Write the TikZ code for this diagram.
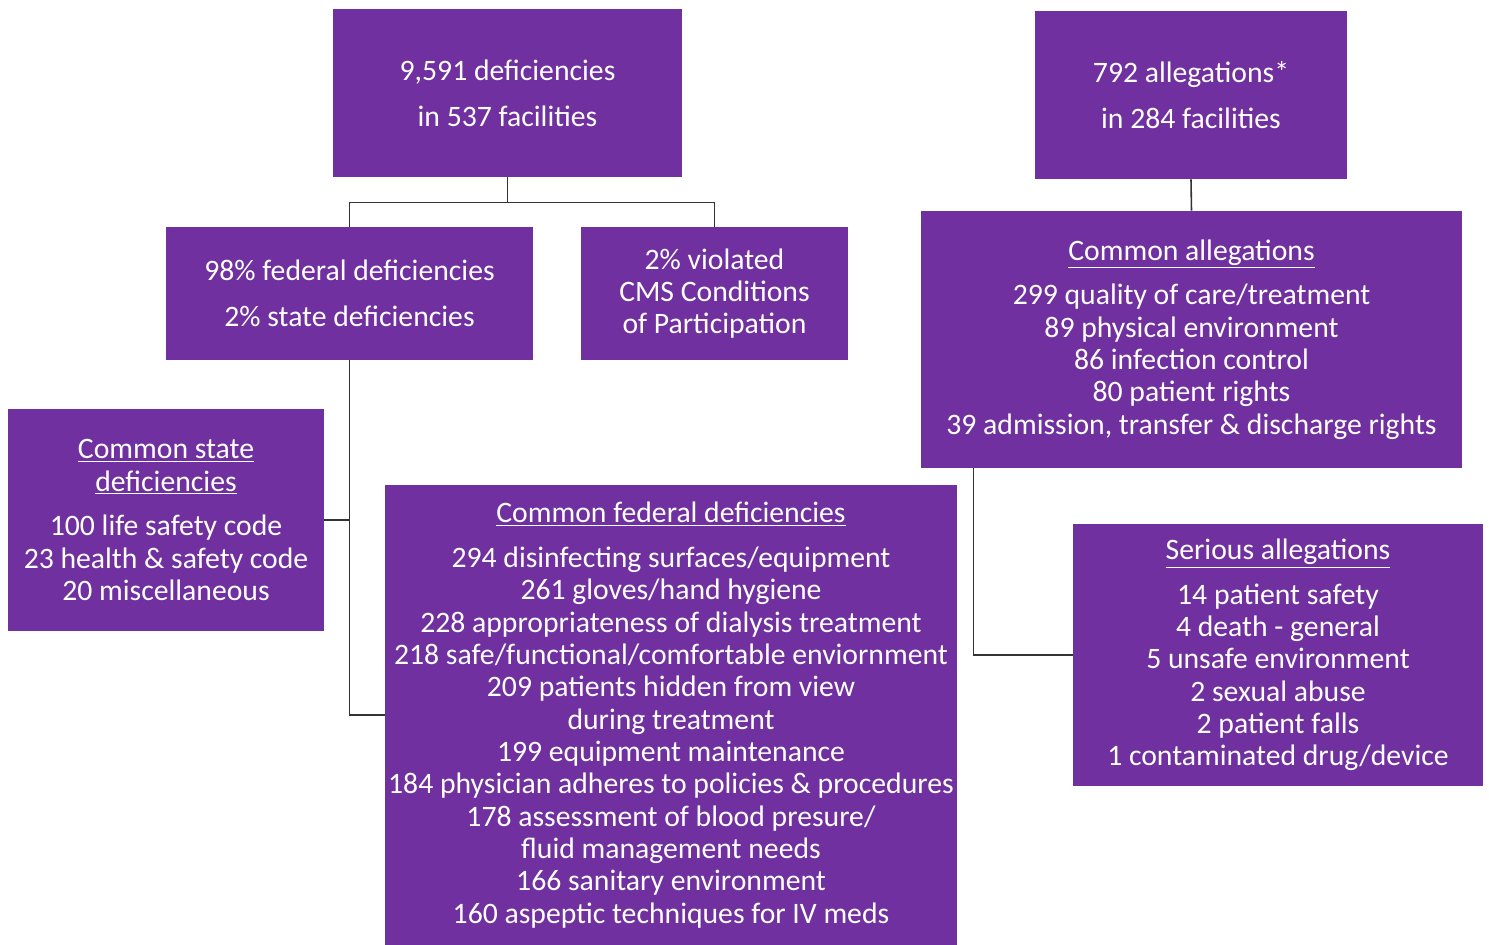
\documentclass[tikz,border=0pt]{standalone}
\usepackage{fontspec}
\setmainfont{Carlito}
\usetikzlibrary{positioning, calc}
\definecolor{boxpurple}{HTML}{7030A0}

\begin{document}
\begin{tikzpicture}[x=0.02cm, y=-0.02cm,
  box/.style={fill=boxpurple, text=white, align=center, inner sep=0pt,
    font=\fontsize{16.9}{18.4}\selectfont},
  link/.style={draw=black!80, line width=0.9pt}]
\useasboundingbox (0,0) rectangle (1489,945);
\node[box, minimum width=6.98cm, minimum height=3.36cm] (total) at (507.5,93)
  {9,591 deficiencies\\[7.6pt]in 537 facilities};
\node[box, minimum width=6.24cm, minimum height=3.36cm] (alleg) at (1191,95)
  {792 allegations*\\[7.6pt]in 284 facilities};
\node[box, minimum width=7.34cm, minimum height=2.66cm] (split) at (349.5,293.5)
  {98\% federal deficiencies\\[7.6pt]2\% state deficiencies};
\node[box, minimum width=5.34cm, minimum height=2.66cm] (cms) at (714.5,293.5)
  {2\% violated\\CMS Conditions\\of Participation};
\node[box, minimum width=10.82cm, minimum height=5.14cm] (commonalleg) at (1191.5,339.5)
  {\underline{Common allegations}\\[7pt]
   299 quality of care/treatment\\
   89 physical environment\\
   86 infection control\\
   80 patient rights\\
   39 admission, transfer \& discharge rights};
\node[box, minimum width=6.32cm, minimum height=4.44cm] (state) at (166,520)
  {\underline{Common state}\\\underline{deficiencies}\\[7pt]
   100 life safety code\\
   23 health \& safety code\\
   20 miscellaneous};
\node[box, minimum width=11.44cm, minimum height=9.2cm] (federal) at (671,715)
  {\underline{Common federal deficiencies}\\[7pt]
   294 disinfecting surfaces/equipment\\
   261 gloves/hand hygiene\\
   228 appropriateness of dialysis treatment\\
   218 safe/functional/comfortable enviornment\\
   209 patients hidden from view\\
   during treatment\\
   199 equipment maintenance\\
   184 physician adheres to policies \& procedures\\
   178 assessment of blood presure/\\
   fluid management needs\\
   166 sanitary environment\\
   160 aspeptic techniques for IV meds};
\node[box, minimum width=8.2cm, minimum height=5.24cm] (serious) at (1278,655)
  {\underline{Serious allegations}\\[7pt]
   14 patient safety\\
   4 death - general\\
   5 unsafe environment\\
   2 sexual abuse\\
   2 patient falls\\
   1 contaminated drug/device};
\draw[link] (total.south) -- ++(0,25) coordinate (fork) -| (split.north);
\draw[link] (fork) -| (cms.north);
\draw[link] (alleg.south) -- (commonalleg.north);
\draw[link] (split.south) |- (federal.west);
\draw[link] (state.east) -- (state.east -| split.south);
\draw[link] ($(commonalleg.south west)+(53,0)$) |- (serious.west);
\end{tikzpicture}
\end{document}
